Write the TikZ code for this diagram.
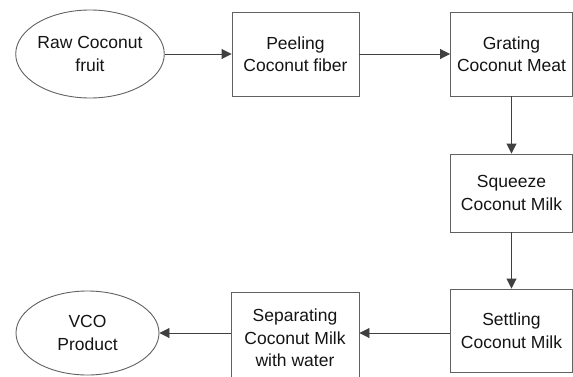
\documentclass[tikz,border=0pt]{standalone}
\usepackage{fontspec}
\setmainfont{Liberation Sans}
\usetikzlibrary{arrows.meta,shapes.geometric}

\begin{document}
\begin{tikzpicture}[x=1pt,y=1pt,>={Triangle[length=10pt,width=10pt]},
		every node/.style={font=\fontsize{17.5}{22.5}\selectfont,align=center,text=black!92,draw=black!62,line width=0.9pt,inner sep=0pt},
		stepbox/.style={rectangle,minimum width=122pt,minimum height=84pt},
		endcap/.style={ellipse,minimum width=147pt,minimum height=88pt},
		flow/.style={->,draw=black!75,line width=0.9pt}]
				\useasboundingbox (0,0) rectangle (573,376);
				\node[endcap] (raw) at (90,322) {Raw Coconut\\fruit};
				\node[stepbox,minimum width=127pt] (peel) at (295.5,322) {Peeling\\Coconut fiber};
				\node[stepbox] (grate) at (511.5,322) {Grating\\Coconut Meat};
				\node[stepbox,minimum height=78pt] (squeeze) at (511.5,183) {Squeeze\\Coconut Milk};
				\node[stepbox,minimum height=83pt] (settle) at (511.5,45.5) {Settling\\Coconut Milk};
				\node[stepbox,minimum width=128pt,minimum height=92pt] (separ) at (295,38) {Separating\\Coconut Milk\\with water};
				\node[endcap,minimum width=143pt,minimum height=84pt] (vco) at (87.5,43) {VCO\\Product};
				
				\draw[flow] (raw) -- (peel);
				\draw[flow] (peel) -- (grate);
				\draw[flow] (grate) -- (squeeze);
				\draw[flow] (squeeze) -- (settle);
				\draw[flow] (settle.west |- vco) -- (separ.east |- vco);
				\draw[flow] (separ.west |- vco) -- (vco.east);
	\end{tikzpicture}
\end{document}
